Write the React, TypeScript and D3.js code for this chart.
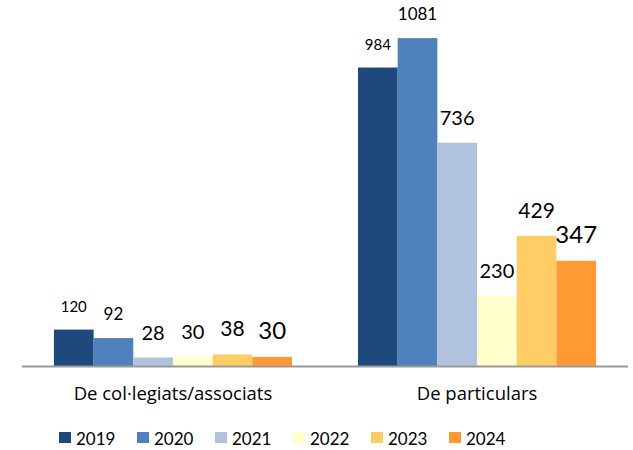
import * as d3 from "d3";

const categories = ["De col·legiats/associats", "De particulars"];
const years = ["2019", "2020", "2021", "2022", "2023", "2024"];
const colegiats = [120, 92, 28, 30, 38, 30];
const particulars = [984, 1081, 736, 230, 429, 347];

const colors = ["#1F497D", "#4F81BD", "#B0C2DE", "#FFFFCC", "#FFCC66", "#FF9933"];
// label font sizes differ per year in the original
const labelSizes = [15, 17, 20, 20, 21, 24];

const width = 633;
const height = 450;
const font = "Lato, 'Open Sans', sans-serif";

export default function App() {
  const seriesByCat = [colegiats, particulars];

  const x = d3.scaleBand<string>().domain(categories).range([22, 628]).paddingInner(0.217).paddingOuter(0.105);
  const xSub = d3.scaleBand<string>().domain(years).range([0, x.bandwidth()]).padding(0);
  const y = d3.scaleLinear().domain([0, 1200]).range([366, 2]);

  const legendX = d3.scaleBand<string>().domain(years).range([59, 527]);

  return (
    <svg width={width} height={height} style={{ position: "absolute", left: 0, top: 0 }} fontFamily={font}>
      <rect width={width} height={height} fill="#fff" />
      {categories.map((cat, ci) => (
        <g key={cat} transform={`translate(${x(cat)},0)`}>
          {years.map((yr, i) => {
            const v = seriesByCat[ci][i];
            const bx = xSub(yr)!;
            return (
              <g key={yr}>
                <rect x={bx} y={y(v)} width={xSub.bandwidth()} height={y(0) - y(v)} fill={colors[i]} />
                <text
                  x={bx + xSub.bandwidth() / 2}
                  y={y(v) - 18}
                  textAnchor="middle"
                  fontSize={labelSizes[i]}
                  fill="#000"
                >
                  {v}
                </text>
              </g>
            );
          })}
          <text
            x={x.bandwidth() / 2}
            y={400}
            textAnchor="middle"
            fontSize={18.5}
            fontFamily="'Open Sans', sans-serif"
            fill="#000"
          >
            {cat}
          </text>
        </g>
      ))}
      <line x1={22} x2={628} y1={y(0) + 0.5} y2={y(0) + 0.5} stroke="#999" strokeWidth={2} />
      {years.map((yr, i) => (
        <g key={yr} transform={`translate(${legendX(yr)},0)`}>
          <rect x={0} y={432} width={12} height={11} fill={colors[i]} />
          <text x={17} y={445} fontSize={17} fill="#000">
            {yr}
          </text>
        </g>
      ))}
    </svg>
  );
}
